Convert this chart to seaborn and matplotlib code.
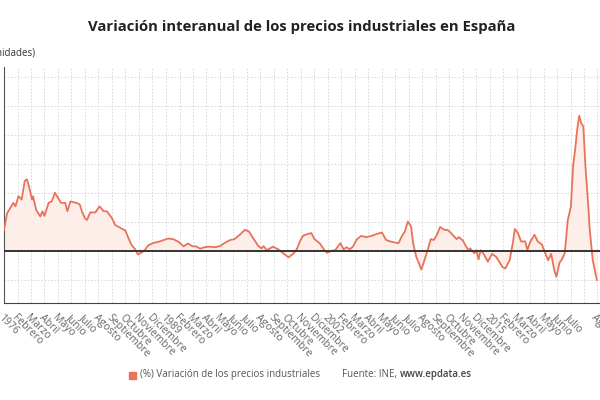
import pandas as pd
import numpy as np
import matplotlib
matplotlib.use('Agg')
import matplotlib.pyplot as plt
import matplotlib.transforms as mtransforms
import seaborn as sns

# values (month, % interannual change)
fechas = ['1976-01', '1976-04', '1976-07', '1976-10', '1976-12', '1977-03', '1977-06', '1977-09',
          '1977-11', '1978-01', '1978-04', '1978-05', '1978-08', '1978-12', '1979-02', '1979-04',
          '1979-08', '1979-11', '1980-02', '1980-05', '1980-08', '1980-12', '1981-02', '1981-05',
          '1981-08', '1981-11', '1982-02', '1982-04', '1982-07', '1982-09', '1982-12', '1983-05',
          '1983-09', '1984-01', '1984-04', '1984-09', '1984-12', '1985-03', '1985-06', '1985-10',
          '1986-01', '1986-04', '1986-07', '1986-10', '1987-02', '1987-05', '1987-08', '1988-01',
          '1988-06', '1988-10', '1989-03', '1989-08', '1990-01', '1990-06', '1990-10', '1991-03',
          '1991-06', '1991-10', '1992-02', '1992-07', '1992-12', '1993-05', '1993-10', '1994-03',
          '1994-07', '1994-12', '1995-05', '1995-09', '1996-01', '1996-06', '1996-09', '1996-11',
          '1997-02', '1997-05', '1997-08', '1998-01', '1998-06', '1998-11', '1999-04', '1999-07',
          '1999-10', '2000-01', '2000-05', '2000-09', '2000-12', '2001-05', '2001-09', '2001-12',
          '2002-05', '2002-08', '2003-01', '2003-04', '2003-07', '2003-10', '2004-01', '2004-05',
          '2004-09', '2005-02', '2005-07', '2005-12', '2006-05', '2006-09', '2007-01', '2007-06',
          '2007-09', '2007-12', '2008-03', '2008-06', '2008-09', '2008-11', '2009-02', '2009-07',
          '2009-10', '2010-01', '2010-04', '2010-07', '2010-10', '2011-01', '2011-05', '2011-08',
          '2011-11', '2012-02', '2012-05', '2012-07', '2012-11', '2013-02', '2013-05', '2013-06',
          '2013-10', '2013-12', '2014-02', '2014-04', '2014-07', '2014-11', '2015-03', '2015-07',
          '2015-10', '2016-01', '2016-04', '2016-08', '2016-11', '2017-01', '2017-04', '2017-07',
          '2017-11', '2018-01', '2018-04', '2018-08', '2018-11', '2019-03', '2019-06', '2019-09',
          '2019-12', '2020-03', '2020-05', '2020-08', '2020-10', '2021-01', '2021-04', '2021-07',
          '2021-09', '2021-11', '2022-01', '2022-03', '2022-05', '2022-07', '2022-09', '2022-12',
          '2023-01', '2023-04', '2023-08']
valores = [7.2, 13.0, 14.8, 16.6, 15.4, 18.9, 17.7, 24.2,
           24.7, 22.4, 17.7, 18.9, 14.2, 11.9, 13.7, 12.1,
           16.6, 17.1, 20.1, 18.3, 16.6, 16.6, 13.7, 17.1,
           16.8, 16.6, 16.0, 13.7, 11.3, 10.7, 13.3, 13.3,
           15.4, 13.7, 13.7, 11.3, 9.0, 8.4, 7.8, 7.0,
           4.3, 2.0, 0.8, -1.2, -0.4, 0.5, 2.0, 2.8,
           3.2, 3.7, 4.3, 4.1, 3.2, 1.6, 2.6, 1.6,
           1.6, 0.8, 1.3, 1.5, 1.3, 1.7, 2.9, 3.8,
           4.1, 5.6, 7.3, 6.7, 4.4, 1.7, 0.9, 1.7,
           0.3, 0.9, 1.5, 0.6, -0.8, -2.2, -0.8, 0.6,
           3.3, 5.3, 5.8, 6.2, 4.1, 2.7, 0.6, -0.6,
           0.1, 0.3, 2.7, 0.6, 1.3, 0.6, 1.5, 4.1,
           5.2, 4.8, 5.2, 5.9, 6.4, 3.8, 3.3, 2.9,
           2.7, 5.0, 6.7, 10.2, 8.5, 2.7, -2.0, -6.4,
           -3.1, 0.3, 4.1, 3.8, 5.6, 8.3, 7.3, 7.3,
           6.4, 5.2, 4.1, 4.8, 3.6, 1.5, 0.1, 0.9,
           -0.8, 0.3, -2.9, 0.3, -1.0, -3.7, -1.0, -2.0,
           -3.7, -5.5, -6.0, -3.1, 2.7, 7.6, 6.2, 3.3,
           3.3, 0.3, 3.3, 5.6, 3.3, 2.3, -0.5, -3.2,
           -1.0, -6.6, -8.9, -4.0, -3.1, -0.8, 10.7, 15.3,
           29.0, 34.8, 41.7, 46.6, 44.0, 42.9, 29.0, 14.1,
           7.8, -3.1, -10.0]

meses = ['Enero', 'Febrero', 'Marzo', 'Abril', 'Mayo', 'Junio', 'Julio', 'Agosto',
         'Septiembre', 'Octubre', 'Noviembre', 'Diciembre']

titulo = 'Variación interanual de los precios industriales en España'
serie = '(%) Variación de los precios industriales'

df = pd.DataFrame({'fecha': pd.to_datetime(fechas), 'valor': valores})

color = '#e8735a'
sns.set_style('white')
plt.rcParams['font.family'] = ['Open Sans', 'DejaVu Sans']

fig = plt.figure(figsize=(6, 4), dpi=100)
ax = fig.add_axes([4 / 600, 97.3 / 400, 596 / 600, 235.7 / 400])

ax.fill_between(df.fecha, df.valor, 0, color='#fdeee9', lw=0, zorder=1)
sns.lineplot(data=df, x='fecha', y='valor', ax=ax, color=color, lw=1.3, zorder=3)
ax.axhline(0, color='#333333', lw=1.4, zorder=4)

# category-style ticks every 13 months, plus the last data month
ticks = list(pd.date_range('1976-01-01', periods=44, freq='13MS')) + [pd.Timestamp('2023-08-01')]
labels = [str(t.year) if t.month == 1 else meses[t.month - 1] for t in ticks]
labels[43] = ''
ax.set_xticks(ticks)
ax.set_xticklabels(labels, rotation=-45, ha='left', va='top', rotation_mode='anchor',
                   fontsize=7.5, color='#666666')
shift = mtransforms.ScaledTranslation(2 / 100, 0, fig.dpi_scale_trans)
for lab in ax.get_xticklabels():
    lab.set_transform(lab.get_transform() + shift)
ax.set_xlim(pd.Timestamp('1976-01-01'), pd.Timestamp('2023-11-01'))

ax.set_ylim(-17.8, 63.4)
ax.set_yticks(np.arange(-10, 61, 10))
ax.set_yticklabels([])

ax.grid(True, color='#d4d4d4', ls=(0, (2, 2)), lw=0.6)
ax.tick_params(axis='x', length=3, color='#555555', pad=4)
ax.tick_params(axis='y', length=3, color='#555555')
ax.set_xlabel('')
ax.set_ylabel('')
for s in ['top', 'right']:
    ax.spines[s].set_visible(False)
ax.spines['bottom'].set_color('#444444')
ax.spines['left'].set_color('#555555')
ax.spines['left'].set_linewidth(0.8)

fig.text(0.502, 1 - 27 / 400, titulo, ha='center', va='center', fontsize=10.7, fontweight='bold',
         color='#222222')
fig.text(36 / 600, 1 - 53 / 400, '(Unidades)', ha='right', va='center', fontsize=7,
         color='#333333')

# legend / source line
fig.patches.append(plt.Rectangle((129 / 600, 1 - 378.5 / 400), 7 / 600, 7 / 400, color=color,
                                 transform=fig.transFigure, figure=fig))
fig.text(140 / 600, 1 - 375 / 400, serie, ha='left', va='center', fontsize=7, color='#555555')
fig.text(342 / 600, 1 - 375 / 400, 'Fuente: INE, ', ha='left', va='center', fontsize=7,
         color='#555555')
fig.text(400 / 600, 1 - 375 / 400, 'www.epdata.es', ha='left', va='center', fontsize=7,
         color='#444444', fontweight='semibold')

fig.savefig('out.png', dpi=100)
